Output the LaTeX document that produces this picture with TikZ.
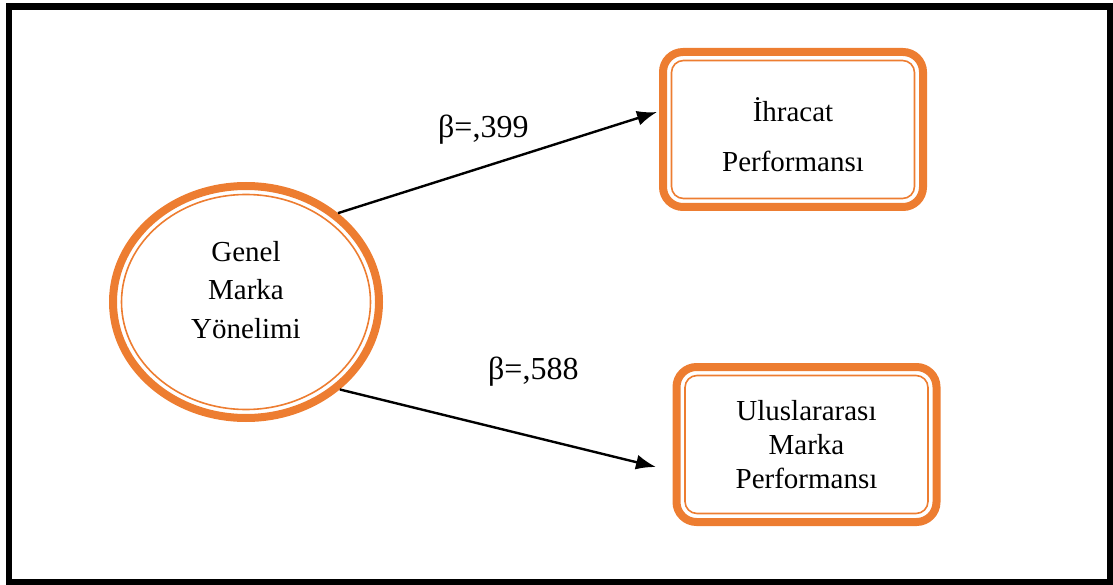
\documentclass[tikz,border=0pt]{standalone}
\usepackage{fontspec}
\setmainfont{Liberation Serif}
\usetikzlibrary{shapes.geometric,arrows.meta}
\definecolor{accent}{HTML}{ED7D31}
\tikzset{
  outerell/.style={ellipse,draw=accent,line width=8pt,minimum width=266pt,minimum height=232pt,inner sep=0pt},
  innerell/.style={ellipse,draw=accent,line width=1.6pt,minimum width=249pt,minimum height=215pt,inner sep=0pt},
  outerbox/.style={rectangle,rounded corners=20pt,draw=accent,line width=8pt,minimum width=260pt,minimum height=155pt,inner sep=0pt},
  innerbox/.style={rectangle,rounded corners=12pt,draw=accent,line width=1.6pt,minimum width=243pt,minimum height=138pt,inner sep=0pt},
  txt/.style={align=center,inner sep=0pt,font=\fontsize{29}{38.5}\selectfont},
  coef/.style={inner sep=0pt,font=\fontsize{32}{36}\selectfont},
  arr/.style={line width=2.4pt,-{Latex[length=20pt,width=15pt]}}
}
\begin{document}
\begin{tikzpicture}[x=1pt,y=-1pt]
\useasboundingbox (0,0) rectangle (1113,585);
% outer frame
\draw[line width=6.5pt] (9,6.5) rectangle (1110.5,582.5);

% construct: Genel Marka Yönelimi
\node[outerell] (gmy) at (246,302) {};
\node[innerell] (gmyin) at (246,302) {};
\node[txt] (gmytxt) at (246,290) {Genel\\Marka\\Yönelimi};

% outcome: İhracat Performansı
\node[outerbox] (ihr) at (793,129.5) {};
\node[innerbox] (ihrin) at (793,129.5) {};
\node[txt,font=\fontsize{29}{50}\selectfont] (ihrtxt) at (793,135) {İhracat\\Performansı};

% outcome: Uluslararası Marka Performansı
\node[outerbox] (ump) at (806.5,444.5) {};
\node[innerbox] (umpin) at (806.5,444.5) {};
\node[txt,font=\fontsize{29}{34}\selectfont] (umptxt) at (806.5,444.5) {Uluslararası\\Marka\\Performansı};

% path arrows
\coordinate (t1) at (657,112);
\coordinate (t2) at (656,467);
\draw[arr] (gmy.44) -- (t1);
\draw[arr] (gmy.-43) -- (t2);

% path coefficients
\node[coef,anchor=base west] (b1) at (438,138) {β=,399};
\node[coef,anchor=base west] (b2) at (488,379) {β=,588};
\end{tikzpicture}
\end{document}
